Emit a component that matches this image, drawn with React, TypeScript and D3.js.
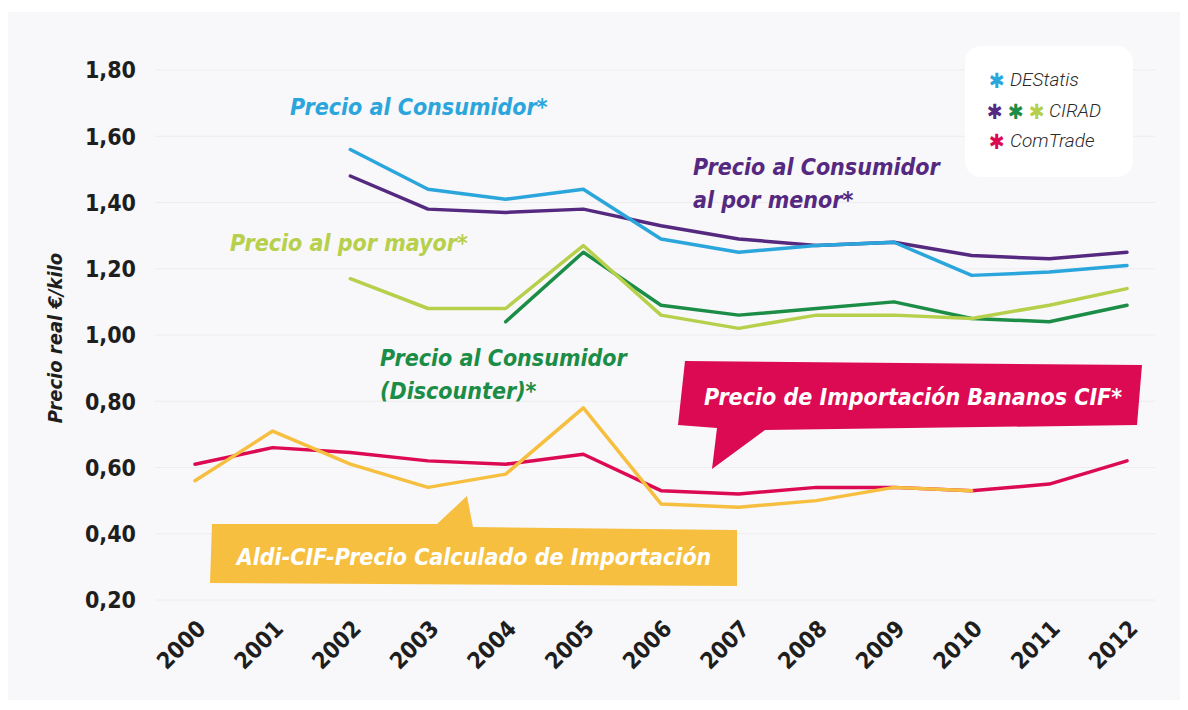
import React from "react";
import * as d3 from "d3";

const years = [2000, 2001, 2002, 2003, 2004, 2005, 2006, 2007, 2008, 2009, 2010, 2011, 2012];
const comtrade = [0.61, 0.66, 0.645, 0.62, 0.61, 0.64, 0.53, 0.52, 0.54, 0.54, 0.53, 0.55, 0.62];
const aldi = [0.56, 0.71, 0.61, 0.54, 0.58, 0.78, 0.49, 0.48, 0.5, 0.54, 0.53, null, null];
const destatis = [null, null, 1.56, 1.44, 1.41, 1.44, 1.29, 1.25, 1.27, 1.28, 1.18, 1.19, 1.21];
const ciradRetail = [null, null, 1.48, 1.38, 1.37, 1.38, 1.33, 1.29, 1.27, 1.28, 1.24, 1.23, 1.25];
const ciradWholesale = [null, null, 1.17, 1.08, 1.08, 1.27, 1.06, 1.02, 1.06, 1.06, 1.05, 1.09, 1.14];
const ciradDiscounter = [null, null, null, null, 1.04, 1.25, 1.09, 1.06, 1.08, 1.1, 1.05, 1.04, 1.09];
const yTicks = [0.2, 0.4, 0.6, 0.8, 1.0, 1.2, 1.4, 1.6, 1.8];

const C = {
  blue: "#2ba6dc",
  purple: "#55297f",
  dgreen: "#1b8d47",
  lgreen: "#b6d04c",
  red: "#dc0a52",
  yellow: "#f6bf3f",
};

const W = 1188;
const H = 710;

const x = d3.scaleLinear().domain([2000, 2012]).range([195, 1127]);
const y = d3.scaleLinear().domain([0.2, 1.8]).range([600, 70]);

const fmt = (v: number) => d3.format(".2f")(v).replace(".", ",");

const line = d3
  .line<number | null>()
  .defined((d) => d !== null)
  .x((_, i) => x(years[i]))
  .y((d) => y(d as number));

const series = [
  { values: comtrade, color: C.red },
  { values: aldi, color: C.yellow },
  { values: ciradDiscounter, color: C.dgreen },
  { values: ciradWholesale, color: C.lgreen },
  { values: ciradRetail, color: C.purple },
  { values: destatis, color: C.blue },
];

const annFont = "'DejaVu Sans Condensed', 'DejaVu Sans', sans-serif";

export default function App() {
  return (
    <svg
      width={W}
      height={H}
      style={{ position: "absolute", left: 0, top: 0 }}
      xmlns="http://www.w3.org/2000/svg"
    >
      <rect x={0} y={0} width={W} height={H} fill="#ffffff" />
      <rect x={8} y={12} width={1172} height={688} fill="#f8f7f9" />

      {/* grid */}
      {yTicks.map((t) => (
        <line key={t} x1={155} x2={1155} y1={y(t)} y2={y(t)} stroke="#eeecef" strokeWidth={1} />
      ))}

      {/* y tick labels */}
      {yTicks.map((t) => (
        <text
          key={"l" + t}
          x={136}
          y={y(t)}
          dy="0.36em"
          textAnchor="end"
          fontFamily={annFont}
          fontWeight="bold"
          fontSize={23}
          fill="#1e1e1e"
        >
          {fmt(t)}
        </text>
      ))}

      {/* y axis title */}
      <text
        transform={`translate(62, ${y(1.0) + 3}) rotate(-90)`}
        textAnchor="middle"
        fontFamily={annFont}
        fontWeight="600"
        fontStyle="italic"
        fontSize={20}
        fill="#1e1e1e"
      >
        Precio real €/kilo
      </text>

      {/* x tick labels */}
      {years.map((yr) => (
        <text
          key={yr}
          transform={`translate(${x(yr) + 4}, 622) rotate(-45)`}
          textAnchor="end"
          dy="0.5em"
          fontFamily={annFont}
          fontWeight="bold"
          fontSize={23}
          fill="#1e1e1e"
        >
          {yr}
        </text>
      ))}

      {/* callouts */}
      <polygon
        points="685,361 1142,365 1137,425 765,430 712,469 717,428 678,425"
        fill={C.red}
      />
      <text
        x={913}
        y={405}
        textAnchor="middle"
        fontFamily={annFont}
        fontStyle="italic"
        fontWeight="600"
        fontSize={23}
        fill="#ffffff"
      >
        Precio de Importación Bananos CIF*
      </text>

      <polygon
        points="212,524 437,524 467,496 473,527 737,530 737,586 210,583"
        fill={C.yellow}
      />
      <text
        x={474}
        y={565}
        textAnchor="middle"
        fontFamily={annFont}
        fontStyle="italic"
        fontWeight="600"
        fontSize={23}
        fill="#ffffff"
      >
        Aldi-CIF-Precio Calculado de Importación
      </text>

      {/* lines */}
      {series.map((s, i) => (
        <path
          key={i}
          d={line(s.values) || ""}
          fill="none"
          stroke={s.color}
          strokeWidth={3.5}
          strokeLinejoin="round"
          strokeLinecap="round"
        />
      ))}

      {/* annotations */}
      <g fontFamily={annFont} fontStyle="italic" fontWeight="600" fontSize={23}>
        <text x={290} y={115} fill={C.blue}>
          Precio al Consumidor*
        </text>
        <text x={693} y={175} fill={C.purple}>
          Precio al Consumidor
        </text>
        <text x={693} y={208} fill={C.purple}>
          al por menor*
        </text>
        <text x={230} y={251} fill={C.lgreen}>
          Precio al por mayor*
        </text>
        <text x={380} y={366} fill={C.dgreen}>
          Precio al Consumidor
        </text>
        <text x={380} y={399} fill={C.dgreen}>
          (Discounter)*
        </text>
      </g>

      {/* legend */}
      <rect x={965} y={46} width={168} height={131} rx={16} ry={16} fill="#ffffff" />
      <g fontFamily="Roboto, sans-serif" fontStyle="italic" fontWeight={300} fontSize={19} fill="#2a2a2a">
        <text x={989} y={88} fontFamily={annFont} fontStyle="normal" fontWeight="bold" fontSize={21} fill={C.blue}>✱</text>
        <text x={1010} y={86}>DEStatis</text>
        <text x={987} y={119} fontFamily={annFont} fontStyle="normal" fontWeight="bold" fontSize={21} fill={C.purple}>✱</text>
        <text x={1008} y={119} fontFamily={annFont} fontStyle="normal" fontWeight="bold" fontSize={21} fill={C.dgreen}>✱</text>
        <text x={1029} y={119} fontFamily={annFont} fontStyle="normal" fontWeight="bold" fontSize={21} fill={C.lgreen}>✱</text>
        <text x={1049} y={117}>CIRAD</text>
        <text x={989} y={149} fontFamily={annFont} fontStyle="normal" fontWeight="bold" fontSize={21} fill={C.red}>✱</text>
        <text x={1010} y={147}>ComTrade</text>
      </g>
    </svg>
  );
}
